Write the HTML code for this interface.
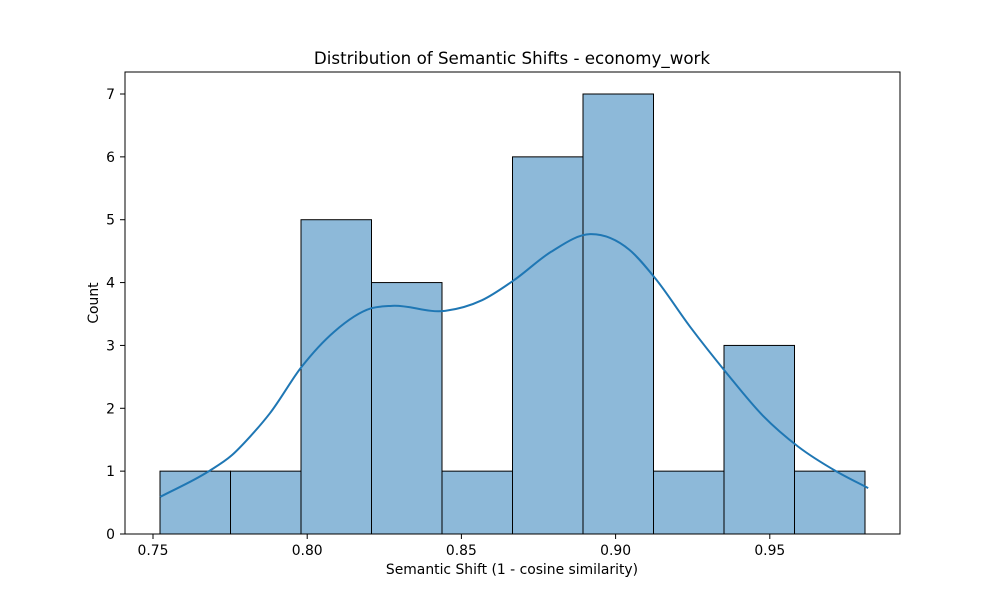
<!DOCTYPE html>
<html><head><meta charset="utf-8"><style>
body{margin:0;background:#fff;font-family:"Liberation Sans","DejaVu Sans",sans-serif;}
svg text{font-family:"DejaVu Sans","Liberation Sans",sans-serif;fill:#000;}
</style></head><body>
<svg id="chart" width="1000" height="600" xmlns="http://www.w3.org/2000/svg">
<rect width="1000" height="600" fill="#fff"/>
<g id="bars"></g>
<path id="kde" fill="none" stroke="#1f77b4" stroke-width="2"/>
<rect x="125" y="72" width="775" height="462" fill="none" stroke="#000" stroke-width="1"/>
<g id="xticks"></g>
<g id="yticks"></g>
<text x="512" y="64" font-size="16.7" text-anchor="middle">Distribution of Semantic Shifts - economy_work</text>
<text x="512" y="574" font-size="13.9" text-anchor="middle">Semantic Shift (1 - cosine similarity)</text>
<text x="98" y="303" font-size="13.9" text-anchor="middle" transform="rotate(-90 98 303)">Count</text>
</svg>
<script>
const binStart = 0.75227;
const binEnd = 0.98087;
const counts = [1,1,5,4,1,6,7,1,3,1];
const kdeX = [0.7523,0.7678,0.7755,0.7815,0.7879,0.7982,0.8088,0.8207,0.8275,0.8447,0.8567,0.8671,0.8791,0.8917,0.9045,0.9128,0.9241,0.9360,0.9480,0.9592,0.9718,0.9819];
const kdeY = [0.59,0.99,1.25,1.55,1.92,2.66,3.22,3.59,3.63,3.55,3.72,4.04,4.49,4.77,4.52,4.07,3.30,2.56,1.87,1.39,0.99,0.73];
const xTicks = [0.75,0.80,0.85,0.90,0.95];
const yTicks = [0,1,2,3,4,5,6,7];
const xs = v => 153 + (v-0.75)*3084;
const ys = v => 534 - v*62.857;
const NS = "http://www.w3.org/2000/svg";
const bars = document.getElementById('bars');
const w = (binEnd-binStart)/counts.length;
counts.forEach((c,i)=>{
  const r = document.createElementNS(NS,'rect');
  const x0 = xs(binStart+i*w), x1 = xs(binStart+(i+1)*w);
  r.setAttribute('x',x0); r.setAttribute('width',x1-x0);
  r.setAttribute('y',ys(c)); r.setAttribute('height',ys(0)-ys(c));
  r.setAttribute('fill','#8db9d9'); r.setAttribute('stroke','#000'); r.setAttribute('stroke-width','1');
  
  
  bars.appendChild(r);
});
const pts = kdeX.map((x,i)=>[xs(x),ys(kdeY[i])]);
const n = pts.length;
const sl = [];
for(let i=0;i<n-1;i++) sl.push((pts[i+1][1]-pts[i][1])/(pts[i+1][0]-pts[i][0]));
const m = pts.map((p,i)=>{
  if(i===0) return sl[0];
  if(i===n-1) return sl[n-2];
  const h0=pts[i][0]-pts[i-1][0], h1=pts[i+1][0]-pts[i][0];
  return (sl[i-1]*h1+sl[i]*h0)/(h0+h1);
});
let d = `M${pts[0][0]},${pts[0][1]}`;
for(let i=0;i<n-1;i++){
  const h=(pts[i+1][0]-pts[i][0])/3;
  d+=` C${pts[i][0]+h},${pts[i][1]+m[i]*h} ${pts[i+1][0]-h},${pts[i+1][1]-m[i+1]*h} ${pts[i+1][0]},${pts[i+1][1]}`;
}
document.getElementById('kde').setAttribute('d',d);
const xg=document.getElementById('xticks');
xTicks.forEach(t=>{
  const x=xs(t);
  const l=document.createElementNS(NS,'line');
  l.setAttribute('x1',x);l.setAttribute('x2',x);l.setAttribute('y1',534);l.setAttribute('y2',539);l.setAttribute('stroke','#000');
  
  
  xg.appendChild(l);
  const tx=document.createElementNS(NS,'text');
  tx.setAttribute('x',x);tx.setAttribute('y',555);tx.setAttribute('font-size','13.9');tx.setAttribute('text-anchor','middle');
  tx.textContent=t.toFixed(2);
  
  
  xg.appendChild(tx);
});
const yg=document.getElementById('yticks');
yTicks.forEach(t=>{
  const y=ys(t);
  const l=document.createElementNS(NS,'line');
  l.setAttribute('x1',120);l.setAttribute('x2',125);l.setAttribute('y1',y);l.setAttribute('y2',y);l.setAttribute('stroke','#000');
  
  
  yg.appendChild(l);
  const tx=document.createElementNS(NS,'text');
  tx.setAttribute('x',115);tx.setAttribute('y',y+5);tx.setAttribute('font-size','13.9');tx.setAttribute('text-anchor','end');
  tx.textContent=t;
  
  
  yg.appendChild(tx);
});
</script>
</body></html>
